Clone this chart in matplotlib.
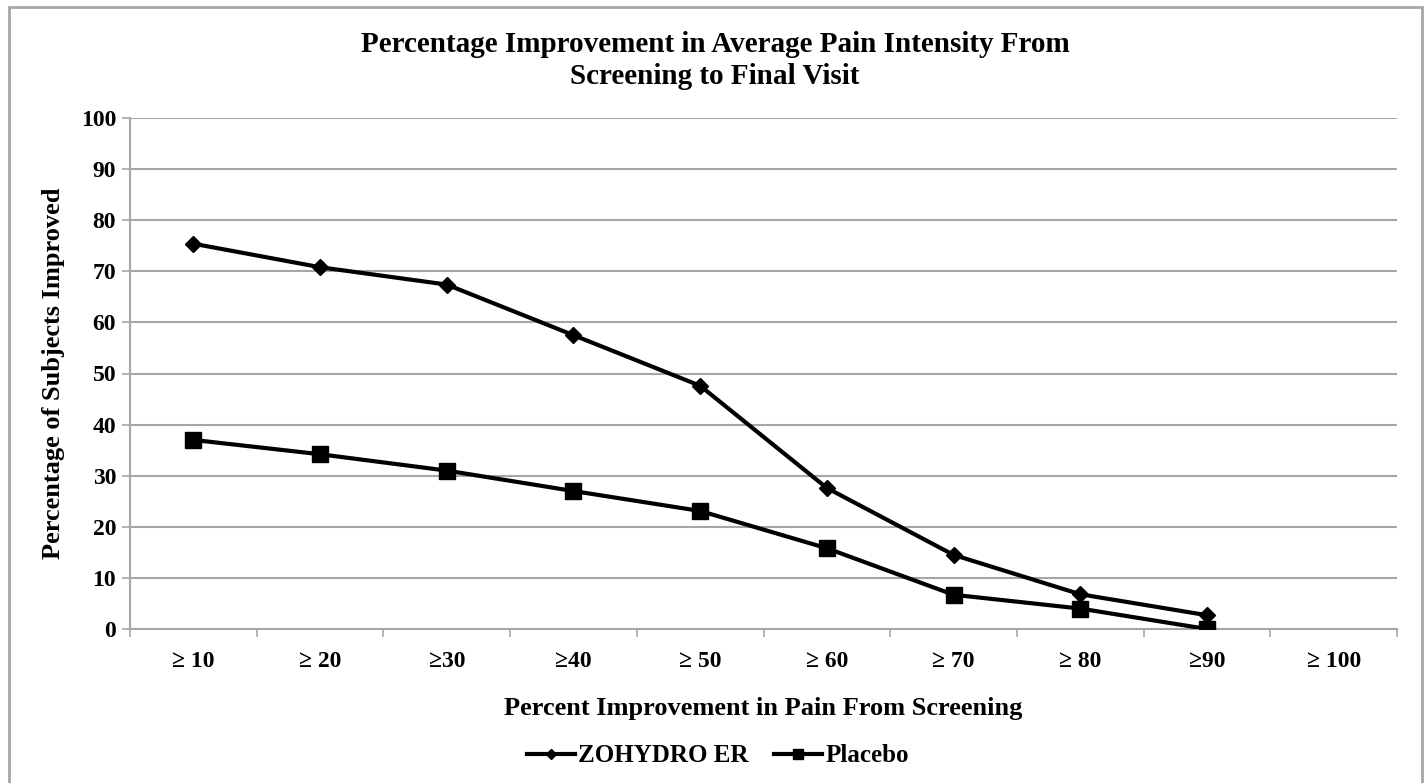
import matplotlib
matplotlib.use("Agg")
import matplotlib.pyplot as plt
from matplotlib.patches import Rectangle

categories = ["≥ 10", "≥ 20", "≥30", "≥40", "≥ 50", "≥ 60", "≥ 70", "≥ 80", "≥90", "≥ 100"]
zohydro = [75.4, 70.8, 67.4, 57.5, 47.6, 27.6, 14.5, 6.8, 2.7]
placebo = [37.0, 34.2, 31.0, 27.0, 23.1, 15.8, 6.7, 4.0, 0.0]
yticks = list(range(0, 101, 10))

plt.rcParams['font.family'] = ['Liberation Serif', 'DejaVu Serif']
plt.rcParams['font.weight'] = 'bold'

W, H = 1428, 783
fig = plt.figure(figsize=(W / 100, H / 100), dpi=100)
fig.patch.set_facecolor('white')

# outer border
fig.add_artist(Rectangle((9 / W, -0.05), (1422 - 9) / W, (783 - 7) / H + 0.05,
                         transform=fig.transFigure, fill=False,
                         edgecolor='#a6a6a6', linewidth=2))

ax = fig.add_axes([130 / W, 1 - 629 / H, (1397 - 130) / W, (629 - 118) / H])

x = list(range(len(zohydro)))
ax.plot(x, zohydro, color='black', linewidth=3, marker='D', markersize=8,
        label='ZOHYDRO ER', zorder=3)
ax.plot(x, placebo, color='black', linewidth=3, marker='s', markersize=11,
        label='Placebo', zorder=3)

ax.set_xlim(-0.5, len(categories) - 0.5)
ax.set_ylim(0, 100)
ax.set_yticks(yticks)
ax.set_yticklabels([str(v) for v in yticks], fontsize=17, fontweight='bold')
ax.yaxis.grid(True, color='#a6a6a6', linewidth=1.5)
ax.set_axisbelow(True)

ax.set_xticks(range(len(categories)))
ax.set_xticklabels(categories, fontsize=17, fontweight='bold')
ax.tick_params(axis='x', length=0, pad=16)
ax.set_xticks([i - 0.5 for i in range(len(categories) + 1)], minor=True)
ax.tick_params(axis='x', which='minor', length=6, color='#a6a6a6', width=1.2)
ax.tick_params(axis='y', length=6, color='#a6a6a6', width=1.2, pad=4)

for s in ['top', 'right']:
    ax.spines[s].set_visible(False)
for s in ['left', 'bottom']:
    ax.spines[s].set_color('#a6a6a6')
    ax.spines[s].set_linewidth(1.5)

ax.set_xlabel('Percent Improvement in Pain From Screening', fontsize=19,
              fontweight='bold', labelpad=18)
ax.set_ylabel('Percentage of Subjects Improved', fontsize=19,
              fontweight='bold', labelpad=11)

fig.text(715 / W, 1 - 44 / H, 'Percentage Improvement in Average Pain Intensity From',
         ha='center', va='center', fontsize=21, fontweight='bold')
fig.text(715 / W, 1 - 76 / H, 'Screening to Final Visit',
         ha='center', va='center', fontsize=21, fontweight='bold')

leg = fig.legend(loc='center', bbox_to_anchor=(718 / W, 1 - 756 / H), ncol=2,
                 frameon=False, fontsize=18, handlelength=1.9, columnspacing=1.0,
                 handletextpad=0.15, markerscale=0.6)

fig.savefig('out.png', dpi=100, facecolor='white')
